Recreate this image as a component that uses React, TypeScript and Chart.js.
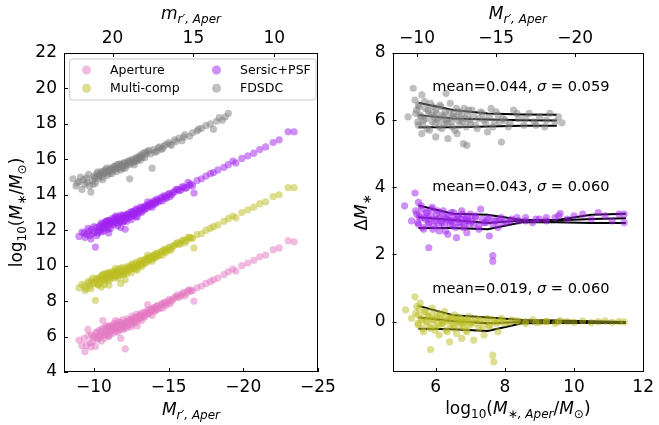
import React, { useEffect, useRef } from 'react';
import { Chart, registerables } from 'chart.js';
Chart.register(...registerables);

// ---------------- data ----------------
// left panel: aperture magnitude (shared by Aperture / Multi-comp / Sersic+PSF)
const magAper = [
  -9.0, -9.2, -9.4, -9.5, -9.6, -9.8, -9.9, -10.0, -10.1, -10.2, -10.3, -10.4, -10.5, -10.5, -10.6,
  -10.7, -10.8, -10.9, -11.0, -11.0, -11.1, -11.2, -11.3, -11.4, -11.5, -11.5, -11.6, -11.7, -11.8, -11.8,
  -11.9, -12.0, -12.0, -12.1, -12.2, -12.3, -12.4, -12.5, -12.6, -12.7,
  -12.8, -12.9, -13.0, -13.1, -13.2, -13.3, -13.4, -13.5, -13.6, -13.7, -13.8, -13.9, -14.0, -14.1, -14.2,
  -14.3, -14.5, -14.6, -14.7, -14.8,
  -15.0, -15.1, -15.3, -15.5, -15.7, -15.9, -16.1, -16.3, -16.5, -16.7, -16.9, -17.2, -17.5, -17.8, -18.0,
  -18.3, -18.7, -19.0, -19.3, -19.5,
  -19.9, -20.3, -20.7, -21.1, -21.5, -22.0, -22.4, -23.0, -23.4,
  -9.35, -9.65, -9.75, -9.85, -10.05, -10.15, -10.25, -10.35, -10.45, -10.55,
  -10.65, -10.75, -10.85, -10.95, -11.05, -11.15, -11.25, -11.35, -11.45, -11.55,
  -11.65, -11.75, -11.85, -11.95, -12.05, -12.15, -12.25, -12.35, -12.45, -12.55,
  -12.65, -12.75, -12.85, -12.95, -13.05, -13.15, -13.25, -13.35, -13.45, -13.55,
  -13.65, -13.75, -13.85, -13.95, -14.05, -14.15, -14.25, -14.4, -14.55, -14.75,
  -14.9, -15.05, -15.2, -15.4, -15.6, -15.8, -16.0, -16.2, -16.4, -16.6,
  -11.1, -11.3, -11.6, -11.9, -12.2, -12.5, -12.8, -10.7, -10.9, -11.45,
];
const massAperture = [
  5.8, 5.5, 5.15, 5.5, 6.4, 5.4, 5.7, 6.0, 5.45, 6.2, 5.9, 6.05, 6.3, 5.75, 6.9,
  6.1, 6.4, 6.2, 6.5, 6.0, 6.3, 6.6, 6.2, 6.45, 6.7, 6.3, 6.55, 6.4, 6.8, 5.9,
  6.6, 6.7, 6.4, 5.3, 6.85, 6.6, 6.9, 6.7, 7.0, 6.8,
  7.1, 6.6, 7.0, 7.25, 6.9, 7.2, 7.1, 7.35, 7.8, 7.3, 7.5, 7.2, 7.6, 7.45, 7.7,
  7.55, 7.8, 7.6, 7.9, 7.75,
  8.0, 7.85, 8.1, 8.25, 8.2, 8.4, 8.3, 8.6, 8.55, 8.0, 8.75, 8.85, 9.0, 9.1, 9.2,
  9.3, 9.5, 9.65, 9.8, 9.7,
  10.0, 10.15, 10.3, 10.5, 10.6, 10.9, 11.0, 11.4, 11.35,
  5.9, 6.05, 5.65, 6.1, 5.95, 6.25, 5.85, 6.35, 6.0, 6.45,
  6.15, 6.55, 6.3, 6.05, 6.6, 6.35, 6.5, 6.75, 6.4, 6.6,
  6.85, 6.5, 6.7, 6.95, 6.55, 6.8, 7.0, 6.75, 6.95, 7.15,
  6.85, 7.05, 7.25, 6.95, 7.2, 7.05, 7.35, 7.15, 7.4, 7.25,
  7.5, 7.35, 7.55, 7.45, 7.65, 7.5, 7.75, 7.6, 7.85, 7.95,
  7.85, 8.1, 8.0, 8.2, 8.35, 8.3, 8.5, 8.45, 8.65, 8.6,
  6.15, 6.55, 6.25, 6.45, 6.5, 6.55, 6.8, 5.9, 6.6, 6.9,
];
const massMultiComp = [
  8.75, 8.95, 8.6, 8.7, 9.1, 8.7, 9.3, 9.05, 8.05, 9.2, 8.9, 9.25, 9.4, 8.8, 9.5,
  9.15, 9.45, 9.3, 9.55, 8.9, 9.4, 9.65, 9.3, 9.55, 9.7, 9.4, 9.6, 9.45, 9.85, 9.0,
  9.65, 9.75, 9.5, 9.2, 9.85, 9.7, 9.95, 9.8, 10.05, 9.85,
  10.1, 9.75, 10.05, 10.3, 9.95, 10.25, 10.15, 10.4, 10.6, 10.3, 10.5, 10.25, 10.6, 10.45, 10.7,
  10.55, 10.8, 10.6, 10.9, 10.75,
  11.0, 10.85, 11.1, 11.25, 11.2, 11.4, 11.3, 11.6, 11.55, 11.0, 11.75, 11.8, 12.0, 12.1, 12.2,
  12.3, 12.5, 12.65, 12.8, 12.7,
  13.0, 13.15, 13.3, 13.5, 13.6, 13.9, 14.0, 14.4, 14.4,
  8.85, 9.0, 8.85, 9.15, 9.0, 9.3, 8.95, 9.3, 9.1, 9.45,
  9.2, 9.55, 9.35, 9.15, 9.6, 9.4, 9.5, 9.7, 9.45, 9.6,
  9.8, 9.55, 9.7, 9.9, 9.6, 9.8, 9.95, 9.75, 9.9, 10.1,
  9.85, 10.0, 10.2, 9.95, 10.15, 10.05, 10.3, 10.1, 10.35, 10.2,
  10.45, 10.35, 10.5, 10.4, 10.6, 10.5, 10.7, 10.6, 10.8, 10.9,
  10.85, 11.05, 10.95, 11.15, 11.3, 11.25, 11.45, 11.4, 11.6, 11.55,
  9.25, 9.55, 9.3, 9.5, 9.55, 9.6, 9.8, 8.95, 9.6, 9.85,
];
const massSersic = [
  11.65, 11.9, 11.6, 11.75, 12.1, 11.5, 11.8, 12.2, 11.05, 11.7, 11.95, 12.25, 12.4, 11.9, 12.1,
  12.3, 12.5, 12.2, 12.55, 11.85, 12.4, 12.65, 12.3, 12.6, 12.75, 12.45, 12.65, 12.45, 12.85, 12.15,
  12.7, 12.8, 12.5, 12.05, 12.9, 12.7, 13.0, 12.8, 13.05, 12.9,
  13.15, 12.75, 13.1, 13.3, 13.0, 13.25, 13.2, 13.4, 13.6, 13.35, 13.55, 13.3, 13.65, 13.5, 13.75,
  13.6, 13.85, 13.65, 13.95, 13.8,
  14.05, 13.9, 14.15, 14.3, 14.25, 14.45, 14.35, 14.7, 14.6, 14.1, 14.8, 14.9, 15.05, 15.2, 15.25,
  15.4, 15.55, 15.7, 15.9, 15.8,
  16.05, 16.2, 16.35, 16.55, 16.7, 16.95, 17.1, 17.55, 17.55,
  11.85, 11.95, 11.7, 12.05, 11.9, 12.15, 11.85, 12.2, 12.0, 12.35,
  12.15, 12.45, 12.3, 12.05, 12.5, 12.35, 12.45, 12.65, 12.4, 12.55,
  12.75, 12.5, 12.65, 12.85, 12.55, 12.75, 12.9, 12.7, 12.9, 13.05,
  12.85, 13.0, 13.2, 12.95, 13.15, 13.05, 13.3, 13.15, 13.35, 13.25,
  13.45, 13.35, 13.5, 13.45, 13.6, 13.55, 13.7, 13.65, 13.8, 13.9,
  13.85, 14.05, 14.0, 14.15, 14.3, 14.25, 14.45, 14.4, 14.55, 14.5,
  12.1, 12.5, 12.25, 12.45, 12.5, 12.6, 12.75, 11.95, 12.55, 12.8,
];
const magFDSDC = [
  -8.6, -8.8, -9.0, -9.2, -9.4, -9.5, -9.7, -9.8, -9.9, -10.0, -10.1, -10.2, -10.3, -10.4, -10.5,
  -10.6, -10.7, -10.8, -10.9, -11.0, -11.1, -11.2, -11.3, -11.4, -11.5, -11.6, -11.7, -11.8, -11.9, -12.0,
  -12.1, -12.2, -12.3, -12.4, -12.5, -12.6, -12.7, -12.8, -12.9, -13.0, -13.1, -13.2, -13.3, -13.4, -13.5,
  -13.6, -13.8, -13.9, -14.0, -14.2, -14.4, -14.6, -14.8, -15.0, -15.2, -15.4, -15.7, -15.9, -16.1, -16.4,
  -16.6, -16.9, -17.2, -17.5, -17.8, -18.0, -18.2, -18.4, -18.6, -19.0,
  -8.9, -9.1, -9.3, -9.55, -9.65, -9.95, -10.05, -10.15, -10.25, -10.35,
  -10.45, -10.55, -10.65, -10.75, -10.85, -10.95, -11.05, -11.15, -11.25, -11.35,
  -11.45, -11.55, -11.65, -11.75, -11.85, -11.95, -12.05, -12.15, -12.25, -12.35,
  -12.45, -12.55, -12.65, -12.75, -12.85, -12.95, -13.05, -13.15, -13.25, -13.45,
  -13.7, -14.1, -14.3, -14.5, -14.7, -15.1, -15.5, -16.0, -17.0, -18.8,
];
const massFDSDC = [
  14.9, 14.5, 14.75, 14.3, 14.6, 14.95, 14.5, 14.15, 14.8, 15.05, 14.65, 15.2, 14.9, 15.1, 15.3,
  14.85, 15.2, 15.4, 15.1, 15.35, 15.5, 15.2, 15.45, 15.6, 15.3, 15.55, 15.7, 15.4, 15.65, 15.8,
  15.5, 15.75, 15.9, 14.9, 15.85, 16.0, 15.7, 16.05, 15.9, 16.15, 15.95, 16.2, 16.35, 16.1, 16.3,
  16.45, 16.3, 15.5, 16.55, 16.45, 16.7, 16.6, 16.85, 16.95, 16.8, 17.1, 17.2, 17.05, 17.4, 17.3,
  17.5, 17.6, 17.75, 17.9, 18.0, 17.7, 18.15, 18.35, 18.2, 18.6,
  14.65, 15.0, 14.85, 14.7, 15.15, 14.6, 14.95, 15.0, 15.3, 15.05,
  15.2, 15.0, 15.35, 15.25, 15.5, 15.3, 15.2, 15.45, 15.35, 15.6,
  15.45, 15.7, 15.5, 15.75, 15.55, 15.5, 15.8, 15.65, 15.85, 15.7,
  15.95, 15.8, 15.85, 15.9, 16.1, 16.0, 16.1, 16.25, 16.1, 16.4,
  16.5, 16.4, 16.65, 16.55, 16.75, 16.85, 17.0, 17.25, 17.7, 18.4,
];

// right panel: residuals vs aperture mass
const dFDSDCx = [
  5.2, 5.35, 5.4, 5.45, 5.5, 5.5, 5.55, 5.6, 5.6, 5.65, 5.7, 5.75, 5.8, 5.85, 5.9, 5.95, 6.0, 6.0, 6.05, 6.1,
  6.15, 6.2, 6.25, 6.3, 6.3, 6.35, 6.4, 6.45, 6.5, 6.55, 6.6, 6.65, 6.7, 6.75, 6.8, 6.85, 6.9, 6.95, 7.0, 7.1,
  7.2, 7.3, 7.4, 7.5, 7.6, 7.7, 7.8, 7.9, 8.0, 8.1, 8.25, 8.4, 8.55, 8.7, 8.85, 9.0, 9.15, 9.3, 9.45, 9.65,
  5.42, 5.48, 5.52, 5.58, 5.62, 5.68, 5.72, 5.78, 5.82, 5.88, 5.92, 5.98, 6.02, 6.08, 6.12, 6.18, 6.22, 6.28,
  6.33, 6.38, 6.42, 6.48, 6.52, 6.58, 6.62, 6.68, 6.72, 6.78, 6.82, 6.88, 6.92, 6.98, 7.05, 7.15, 7.25, 7.35,
  7.45, 7.55, 7.65, 7.75, 7.85, 7.95, 8.15, 8.35, 8.6, 8.9, 9.2, 9.55,
];
const dFDSDCy = [
  6.1, 6.95, 6.6, 6.3, 5.85, 6.45, 6.15, 5.6, 6.75, 6.0, 6.35, 5.75, 6.2, 6.5, 5.95, 6.1, 5.5, 6.3, 6.05, 5.8,
  6.4, 6.15, 5.9, 6.8, 6.0, 5.45, 6.25, 5.95, 6.1, 5.7, 6.35, 6.0, 5.85, 6.2, 5.3, 6.05, 5.25, 6.3, 5.9, 6.1,
  5.75, 6.25, 6.0, 5.65, 6.35, 5.95, 6.15, 5.35, 6.0, 5.8, 6.3, 6.05, 5.85, 6.2, 5.95, 6.1, 5.8, 6.2, 5.95, 5.92,
  6.2, 5.95, 6.4, 6.1, 5.85, 6.55, 6.05, 6.3, 5.7, 6.15, 6.4, 5.9, 6.2, 6.0, 6.45, 5.75, 6.1, 6.25,
  5.9, 6.05, 6.5, 5.8, 6.2, 6.1, 5.6, 6.25, 6.05, 5.95, 6.35, 5.8, 6.15, 6.0, 6.3, 5.85, 6.05, 6.2,
  5.9, 6.1, 5.8, 6.25, 5.95, 6.05, 5.9, 6.2, 6.05, 5.85, 6.0, 6.1,
];
const dSersicX = [
  5.1, 5.3, 5.4, 5.45, 5.5, 5.5, 5.55, 5.6, 5.65, 5.7, 5.75, 5.8, 5.8, 5.85, 5.9, 5.95, 6.0, 6.05, 6.1, 6.15,
  6.2, 6.25, 6.3, 6.35, 6.4, 6.45, 6.5, 6.55, 6.6, 6.65, 6.7, 6.75, 6.8, 6.85, 6.9, 6.95, 7.0, 7.1, 7.15, 7.25,
  7.3, 7.4, 7.5, 7.55, 7.65, 7.65, 7.7, 7.8, 7.9, 8.05, 8.2, 8.4, 8.6, 8.8, 9.0, 9.2, 9.45, 9.6, 9.8, 10.0,
  10.25, 10.5, 10.7, 10.9, 11.1, 11.3, 11.45, 11.45,
  5.42, 5.48, 5.52, 5.58, 5.62, 5.68, 5.72, 5.78, 5.82, 5.88, 5.92, 5.98, 6.02, 6.08, 6.12, 6.18, 6.22, 6.28,
  6.33, 6.38, 6.42, 6.48, 6.52, 6.58, 6.62, 6.68, 6.72, 6.78, 6.82, 6.88, 6.92, 6.98, 7.05, 7.15, 7.25, 7.35,
  7.45, 7.55, 7.65, 7.75, 7.85, 7.95, 8.15, 8.35, 8.6, 8.9, 9.2, 9.55,
];
const dSersicY = [
  3.45, 3.0, 3.83, 3.2, 3.55, 2.9, 3.1, 3.35, 2.75, 3.05, 3.25, 2.2, 2.95, 3.15, 3.4, 2.85, 3.05, 3.3, 2.7, 3.0,
  3.2, 2.9, 3.1, 2.6, 3.0, 3.25, 2.85, 3.05, 2.5, 3.15, 2.95, 3.3, 2.8, 3.05, 2.65, 3.0, 3.2, 2.9, 3.1, 2.75,
  3.35, 2.95, 3.05, 2.55, 1.97, 1.8, 3.0, 2.8, 3.1, 2.95, 3.05, 3.0, 3.1, 2.95, 3.05, 3.0, 3.1, 3.22, 3.05, 3.15,
  3.2, 3.05, 3.25, 3.15, 3.0, 3.2, 2.95, 3.2,
  3.3, 2.95, 3.15, 3.45, 2.8, 3.1, 3.25, 2.9, 3.05, 3.35, 2.75, 3.0, 3.2, 2.85, 3.1, 2.95, 3.3, 2.7,
  3.05, 3.15, 2.9, 3.0, 3.25, 2.8, 3.1, 2.95, 3.05, 3.2, 2.85, 3.0, 3.1, 2.9, 3.0, 3.15, 2.85, 3.05,
  2.95, 3.1, 2.9, 3.0, 3.05, 2.95, 3.0, 3.1, 3.0, 3.05, 3.1, 3.15,
];
const dMultiX = [
  5.13, 5.3, 5.4, 5.45, 5.5, 5.5, 5.55, 5.6, 5.65, 5.7, 5.75, 5.8, 5.85, 5.85, 5.9, 5.95, 6.0, 6.05, 6.1, 6.15,
  6.2, 6.25, 6.3, 6.35, 6.4, 6.45, 6.5, 6.55, 6.6, 6.65, 6.7, 6.75, 6.8, 6.85, 6.9, 6.95, 7.0, 7.1, 7.15, 7.25,
  7.3, 7.4, 7.5, 7.55, 7.65, 7.68, 7.7, 7.8, 7.9, 8.0, 8.2, 8.4, 8.6, 8.8, 9.0, 9.2, 9.45, 9.6, 9.8, 10.0,
  10.25, 10.5, 10.7, 10.9, 11.1, 11.3, 11.45,
  5.42, 5.48, 5.52, 5.58, 5.62, 5.68, 5.72, 5.78, 5.82, 5.88, 5.92, 5.98, 6.02, 6.08, 6.12, 6.18, 6.22, 6.28,
  6.33, 6.38, 6.42, 6.48, 6.52, 6.58, 6.62, 6.68, 6.72, 6.78, 6.82, 6.88, 6.92, 6.98, 7.05, 7.15, 7.25, 7.35,
  7.45, 7.55, 7.65, 7.75, 7.85, 7.95, 8.15, 8.35, 8.6, 8.9, 9.2, 9.55,
];
const dMultiY = [
  0.35, 0.1, 0.74, 0.45, 0.2, -0.1, 0.55, 0.05, -0.3, 0.3, 0.0, 0.15, -0.83, -0.2, 0.4, 0.05, -0.15, 0.25, -0.4, 0.1,
  -0.05, 0.3, -0.25, 0.05, -0.6, 0.15, -0.1, 0.2, -0.35, 0.0, 0.1, -0.5, -0.15, 0.05, -0.3, 0.15, -0.05, -0.55, 0.1, -0.2,
  0.05, -0.4, 0.1, -0.15, -1.0, -1.2, 0.0, -0.3, 0.1, -0.05, 0.05, 0.0, -0.05, 0.05, -0.02, 0.0, -0.05, 0.03, 0.0, -0.02,
  0.02, -0.03, 0.0, 0.02, -0.02, 0.0, -0.01,
  0.25, -0.05, 0.4, 0.1, -0.2, 0.3, 0.0, 0.15, -0.15, 0.2, 0.05, -0.25, 0.1, -0.1, 0.2, -0.05, 0.0, 0.15,
  -0.3, 0.05, -0.1, 0.1, -0.2, 0.0, 0.05, -0.15, 0.1, -0.05, 0.0, -0.25, 0.05, -0.1, 0.0, -0.05, 0.05, -0.15,
  0.0, -0.1, 0.05, -0.05, 0.0, 0.02, -0.02, 0.03, 0.0, -0.02, 0.01, 0.0,
];

// binned percentile lines
const binX = [5.5, 6.5, 7.5, 8.5, 9.5, 10.5, 11.5];
const fdsdcHi = [6.52, 6.3, 6.2, 6.17, 6.16];
const fdsdcMid = [6.15, 6.05, 6.02, 6.0, 5.99];
const fdsdcLo = [5.79, 5.79, 5.81, 5.83, 5.83];
const sersicHi = [3.46, 3.21, 3.18, 3.03, 3.03, 3.18, 3.21];
const sersicMid = [3.11, 3.03, 2.94, 3.01, 3.01, 3.06, 3.08];
const sersicLo = [2.79, 2.79, 2.75, 2.96, 2.96, 2.94, 2.94];
const multiHi = [0.47, 0.19, 0.12, 0.05, 0.03, 0.01, -0.01];
const multiMid = [0.12, 0.02, -0.05, -0.01, -0.01, -0.02, -0.03];
const multiLo = [-0.21, -0.23, -0.28, -0.05, -0.04, -0.04, -0.04];

// ticks, labels
const leftXTicks = [-10, -15, -20, -25];
const leftTopTicks = [20, 15, 10];
const leftYTicks = [4, 6, 8, 10, 12, 14, 16, 18, 20, 22];
const rightXTicks = [6, 8, 10, 12];
const rightTopTicks = [-10, -15, -20];
const rightYTicks = [0, 2, 4, 6, 8];
const legendLabels = ['Aperture', 'Multi-comp', 'Sersic+PSF', 'FDSDC'];
const statMeans = ['0.044', '0.043', '0.019'];
const statSigmas = ['0.059', '0.060', '0.060'];
const statY = [6.88, 3.89, 0.86];

// ---------------- styling ----------------
const FONT = '"DejaVu Sans", sans-serif';
const PINK = 'rgba(227,119,194,0.5)';
const OLIVE = 'rgba(188,189,34,0.5)';
const PURPLE = 'rgba(160,32,240,0.5)';
const GRAY = 'rgba(128,128,128,0.5)';
const TICK_FONT = { family: FONT, size: 17 };

type Seg = { t: string; s: number; it?: boolean; dy?: number };

function drawRich(ctx: CanvasRenderingContext2D, segs: Seg[], x: number, y: number, rot = 0, align: 'center' | 'left' = 'center') {
  ctx.save();
  ctx.translate(x, y);
  ctx.rotate(rot);
  ctx.textBaseline = 'alphabetic';
  ctx.textAlign = 'left';
  ctx.fillStyle = '#000';
  const fonts = segs.map((g) => `${g.it ? 'italic ' : ''}${g.s}px ${FONT}`);
  const ws = segs.map((g, i) => {
    ctx.font = fonts[i];
    return ctx.measureText(g.t).width;
  });
  const total = ws.reduce((a, b) => a + b, 0);
  let cx = align === 'center' ? -total / 2 : 0;
  segs.forEach((g, i) => {
    ctx.font = fonts[i];
    ctx.fillText(g.t, cx, g.dy || 0);
    cx += ws[i];
  });
  ctx.restore();
}

const SUB = 12;
const BIG = 17;
const magTitle = (letter: string): Seg[] => [
  { t: letter, s: BIG, it: true },
  { t: 'r\u2032, Aper', s: SUB, it: true, dy: 4 },
];
const logMassTitle: Seg[] = [
  { t: 'log', s: BIG },
  { t: '10', s: SUB, dy: 4 },
  { t: '(', s: BIG },
  { t: 'M', s: BIG, it: true },
  { t: '\u2217', s: SUB, dy: 4 },
  { t: '/', s: BIG },
  { t: 'M', s: BIG, it: true },
  { t: '\u2299', s: SUB, dy: 4 },
  { t: ')', s: BIG },
];
const logMassAperTitle: Seg[] = [
  { t: 'log', s: BIG },
  { t: '10', s: SUB, dy: 4 },
  { t: '(', s: BIG },
  { t: 'M', s: BIG, it: true },
  { t: '\u2217', s: SUB, dy: 4 },
  { t: ', Aper', s: SUB, it: true, dy: 4 },
  { t: '/', s: BIG },
  { t: 'M', s: BIG, it: true },
  { t: '\u2299', s: SUB, dy: 4 },
  { t: ')', s: BIG },
];
const deltaTitle: Seg[] = [
  { t: '\u0394', s: BIG },
  { t: 'M', s: BIG, it: true },
  { t: '\u2217', s: SUB, dy: 4 },
];

const pts = (xs: number[], ys: number[]) => xs.map((x, i) => ({ x, y: ys[i] }));
const fixTicks = (vals: number[]) => (scale: any) => {
  scale.ticks = vals.map((v) => ({ value: v }));
};
const minusFmt = (v: any) => String(v).replace('-', '\u2212');

const framePlugin = {
  id: 'frame',
  afterDraw(chart: any) {
    const { ctx, chartArea: a } = chart;
    ctx.save();
    ctx.strokeStyle = '#000';
    ctx.lineWidth = 1;
    ctx.strokeRect(Math.round(a.left) + 0.5, Math.round(a.top) + 0.5, Math.round(a.right - a.left) - 1, Math.round(a.bottom - a.top) - 1);
    const L = 4;
    Object.values(chart.scales).forEach((s: any) => {
      s.ticks.forEach((t: any) => {
        const p = Math.round(s.getPixelForValue(t.value)) + 0.5;
        ctx.beginPath();
        if (s.position === 'bottom') {
          ctx.moveTo(p, a.bottom); ctx.lineTo(p, a.bottom - L);
        } else if (s.position === 'top') {
          ctx.moveTo(p, a.top); ctx.lineTo(p, a.top + L);
        } else if (s.position === 'left') {
          ctx.moveTo(a.left, p); ctx.lineTo(a.left + L, p);
        }
        ctx.stroke();
      });
    });
    ctx.restore();
  },
};

function axis(position: string, min: number, max: number, ticks: number[], size: number, reverse = false, pad = 5) {
  const horiz = position === 'top' || position === 'bottom';
  return {
    type: 'linear',
    position,
    min,
    max,
    reverse,
    grid: { display: false, drawTicks: false },
    border: { display: false },
    ticks: { font: TICK_FONT, color: '#000', padding: pad, callback: minusFmt, maxRotation: 0, autoSkip: false },
    afterBuildTicks: fixTicks(ticks),
    afterFit: (s: any) => {
      if (horiz) s.height = size;
      else s.width = size;
    },
  };
}

function scatterSet(label: string, data: any[], color: string, xAxisID = 'x') {
  return {
    label,
    data,
    xAxisID,
    backgroundColor: color,
    borderWidth: 0,
    pointRadius: 3.6,
    pointHoverRadius: 3.6,
  };
}

function lineSet(xs: number[], ys: number[]) {
  return {
    type: 'line',
    data: pts(xs.slice(0, ys.length), ys),
    borderColor: '#000',
    borderWidth: 2,
    pointRadius: 0,
    showLine: true,
    fill: false,
    tension: 0,
  };
}

function leftConfig(): any {
  const colors = [PINK, OLIVE, PURPLE, GRAY];
  const legendPlugin = {
    id: 'legendBox',
    afterDraw(chart: any) {
      const { ctx, chartArea: a } = chart;
      const x0 = a.left + 5.5, y0 = a.top + 6, w = 246.5, h = 41;
      ctx.save();
      ctx.fillStyle = 'rgba(255,255,255,0.8)';
      ctx.strokeStyle = '#cccccc';
      ctx.lineWidth = 1;
      ctx.beginPath();
      (ctx as any).roundRect(x0, y0, w, h, 3);
      ctx.fill();
      ctx.stroke();
      ctx.font = `12.5px ${FONT}`;
      ctx.textBaseline = 'middle';
      ctx.textAlign = 'left';
      legendLabels.forEach((lab, i) => {
        const col = Math.floor(i / 2), row = i % 2;
        const mx = x0 + 17 + col * 130, my = y0 + 11 + row * 18.3;
        ctx.fillStyle = colors[i];
        ctx.beginPath();
        ctx.arc(mx, my, 4.5, 0, Math.PI * 2);
        ctx.fill();
        ctx.fillStyle = '#000';
        ctx.fillText(lab, mx + 23.5, my + 0.5);
      });
      ctx.restore();
    },
  };
  const titles = {
    id: 'titlesL',
    afterDraw(chart: any) {
      const { ctx, chartArea: a } = chart;
      const cx = (a.left + a.right) / 2, cy = (a.top + a.bottom) / 2;
      drawRich(ctx, magTitle('M'), cx, a.bottom + 42.5);
      drawRich(ctx, magTitle('m'), cx, a.top - 34.5);
      drawRich(ctx, logMassTitle, a.left - 42.5, cy, -Math.PI / 2);
    },
  };
  return {
    type: 'scatter',
    data: {
      datasets: [
        scatterSet(legendLabels[0], pts(magAper, massAperture), PINK),
        scatterSet(legendLabels[1], pts(magAper, massMultiComp), OLIVE),
        scatterSet(legendLabels[2], pts(magAper, massSersic), PURPLE),
        scatterSet(legendLabels[3], pts(magFDSDC, massFDSDC), GRAY),
      ],
    },
    options: {
      responsive: false,
      animation: false,
      devicePixelRatio: 1,
      events: [],
      layout: { padding: { left: 0, right: 341, top: 0, bottom: 0 } },
      plugins: { legend: { display: false }, tooltip: { enabled: false } },
      scales: {
        x: axis('bottom', -25, -8, leftXTicks, 53, true, 5),
        x2: axis('top', 7.3, 23.0, leftTopTicks, 53, true, 4),
        y: axis('left', 4, 22, leftYTicks, 64, false, 7),
      },
    },
    plugins: [framePlugin, legendPlugin, titles],
  };
}

function rightConfig(): any {
  const titles = {
    id: 'titlesR',
    afterDraw(chart: any) {
      const { ctx, chartArea: a, scales } = chart;
      const cx = (a.left + a.right) / 2, cy = (a.top + a.bottom) / 2;
      drawRich(ctx, logMassAperTitle, cx, a.bottom + 42);
      drawRich(ctx, magTitle('M'), cx, a.top - 34.5);
      drawRich(ctx, deltaTitle, a.left - 26, cy, -Math.PI / 2);
      const tx = scales.x.getPixelForValue(5.9);
      statMeans.forEach((m, i) => {
        const ty = scales.y.getPixelForValue(statY[i]);
        drawRich(ctx, [
          { t: `mean=${m}, `, s: 14.6 },
          { t: '\u03c3', s: 14.6, it: true },
          { t: ` = ${statSigmas[i]}`, s: 14.6 },
        ], tx, ty, 0, 'left');
      });
    },
  };
  return {
    type: 'scatter',
    data: {
      datasets: [
        scatterSet('FDSDC', pts(dFDSDCx, dFDSDCy), GRAY),
        scatterSet('Sersic+PSF', pts(dSersicX, dSersicY), PURPLE),
        scatterSet('Multi-comp', pts(dMultiX, dMultiY), OLIVE),
        lineSet(binX, fdsdcHi), lineSet(binX, fdsdcMid), lineSet(binX, fdsdcLo),
        lineSet(binX, sersicHi), lineSet(binX, sersicMid), lineSet(binX, sersicLo),
        lineSet(binX, multiHi), lineSet(binX, multiMid), lineSet(binX, multiLo),
      ],
    },
    options: {
      responsive: false,
      animation: false,
      devicePixelRatio: 1,
      events: [],
      layout: { padding: { left: 330, right: 11.3, top: 0, bottom: 0 } },
      plugins: { legend: { display: false }, tooltip: { enabled: false } },
      scales: {
        x: axis('bottom', 4.75, 12, rightXTicks, 53, false, 5),
        x2: axis('top', -24.3, -8.45, rightTopTicks, 53, true, 4),
        y: axis('left', -1.5, 8, rightYTicks, 62.5, false, 7),
      },
    },
    plugins: [framePlugin, titles],
  };
}

export default function App() {
  const leftRef = useRef<HTMLCanvasElement>(null);
  const rightRef = useRef<HTMLCanvasElement>(null);
  useEffect(() => {
    const c1 = new Chart(leftRef.current as HTMLCanvasElement, leftConfig());
    const c2 = new Chart(rightRef.current as HTMLCanvasElement, rightConfig());
    return () => {
      c1.destroy();
      c2.destroy();
    };
  }, []);
  return (
    <div style={{ position: 'absolute', left: 0, top: 0, width: 659, height: 425, background: '#fff' }}>
      <canvas ref={leftRef} width={659} height={425} style={{ position: 'absolute', left: 0, top: 0 }} />
      <canvas ref={rightRef} width={659} height={425} style={{ position: 'absolute', left: 0, top: 0 }} />
    </div>
  );
}
